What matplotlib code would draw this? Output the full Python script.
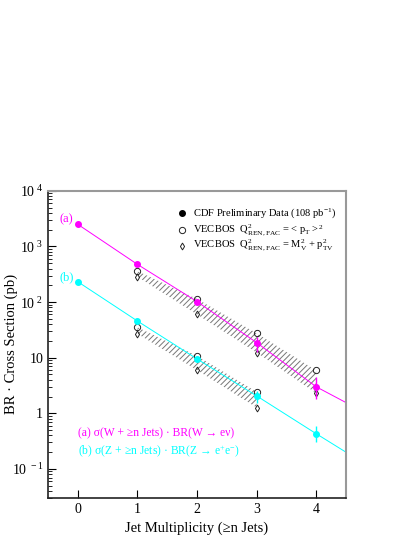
import numpy as np
import matplotlib
matplotlib.use("Agg")
import matplotlib.pyplot as plt
from matplotlib.ticker import FixedLocator, FixedFormatter, LogLocator, NullFormatter

plt.rcParams['font.family'] = ['Liberation Serif', 'DejaVu Serif']
plt.rcParams['mathtext.fontset'] = 'custom'
plt.rcParams['mathtext.rm'] = 'Liberation Serif'
plt.rcParams['mathtext.it'] = 'Liberation Serif'
plt.rcParams['hatch.linewidth'] = 0.7

# jet multiplicity
n_data = [0, 1, 2, 3, 4]
n_vec_w = [1, 2, 3, 4]
n_vec_z = [1, 2, 3]

# CDF data, W (a) and Z (b)
w_data = [2500, 477, 102, 18.7, 3.0]
w_err_lo = [0, 0, 4, 5.8, 1.2]
w_err_hi = [0, 0, 4, 4.6, 1.5]
z_data = [232, 45.7, 9.5, 2.06, 0.43]
z_err_lo = [0, 0, 0.5, 0.52, 0.13]
z_err_hi = [0, 0, 0.5, 0.44, 0.17]

# fit lines
n_fit = [0, 1, 2, 3, 4, 4.5]
w_fit = [2500, 477, 102, 18.7, 3.0, 1.56]
z_fit = [232, 45.7, 9.5, 2.06, 0.43, 0.2]

# VECBOS predictions: Q^2 = <pT>^2 (circles), Q^2 = M^2 + pT^2 (diamonds)
w_vec_pt = [361, 114, 27.5, 5.9]
w_vec_m = [286, 60, 12.4, 2.3]
z_vec_pt = [35.3, 10.8, 2.43]
z_vec_m = [27, 6.0, 1.27]

magenta = '#ff00ff'
cyan = '#00ffff'

fig = plt.figure(figsize=(4.15, 5.37), dpi=100)
ax = fig.add_axes([0.1157, 0.0726, 0.718, 0.572])

# hatched VECBOS bands
ax.fill_between(n_vec_w, w_vec_m, w_vec_pt, facecolor='none', edgecolor='#777777',
                hatch='//////', linewidth=0)
ax.fill_between(n_vec_z, z_vec_m, z_vec_pt, facecolor='none', edgecolor='#777777',
                hatch='//////', linewidth=0)

ax.plot(n_fit, w_fit, color=magenta, lw=0.7)
ax.plot(n_fit, z_fit, color=cyan, lw=0.7)

ax.errorbar(n_data, w_data, yerr=[w_err_lo, w_err_hi], fmt='o', color=magenta,
            ms=4, elinewidth=1.0, capsize=0, zorder=5)
ax.errorbar(n_data, z_data, yerr=[z_err_lo, z_err_hi], fmt='o', color=cyan,
            ms=4, elinewidth=1.0, capsize=0, zorder=5)

for xs, ys in [(n_vec_w, w_vec_pt), (n_vec_z, z_vec_pt)]:
    ax.plot(xs, ys, 'o', mfc='none', mec='#222222', ms=4.5, mew=0.7, zorder=4)
for xs, ys in [(n_vec_w, w_vec_m), (n_vec_z, z_vec_m)]:
    ax.plot(xs, ys, 'd', mfc='none', mec='#222222', ms=3.5, mew=0.7, zorder=4)

ax.set_yscale('log')
ax.set_xlim(-0.5, 4.5)
ax.set_ylim(0.03, 1e4)

ax.xaxis.set_major_locator(FixedLocator([0, 1, 2, 3, 4]))
ax.yaxis.set_major_locator(FixedLocator([0.1, 1, 10, 100, 1000, 10000]))
ax.yaxis.set_major_formatter(FixedFormatter([r'$\mathregular{10^{\ -1}}$', '1', '10',
                                             r'$\mathregular{10^{\ 2}}$',
                                             r'$\mathregular{10^{\ 3}}$',
                                             r'$\mathregular{10^{\ 4}}$']))
ax.yaxis.set_minor_locator(LogLocator(base=10, subs=np.arange(2, 10), numticks=20))
ax.yaxis.set_minor_formatter(NullFormatter())
ax.tick_params(axis='both', which='both', direction='in', top=False, right=False,
               labelsize=10)
ax.tick_params(axis='y', which='major', length=6, width=0.8)
ax.tick_params(axis='y', which='minor', length=3, width=0.6)
ax.tick_params(axis='x', which='major', length=6, width=0.8)
ax.tick_params(axis='x', which='minor', bottom=False)

for s in ['left', 'bottom']:
    ax.spines[s].set_color('#222222')
    ax.spines[s].set_linewidth(1.2)
for s in ['top', 'right']:
    ax.spines[s].set_color('#999999')
    ax.spines[s].set_linewidth(1.5)

ax.set_xlabel('Jet Multiplicity (≥n Jets)', fontsize=10.5)
ax.set_ylabel('BR · Cross Section (pb)', fontsize=10.5)
ax.xaxis.set_label_coords(0.5, -0.075)
ax.yaxis.set_label_coords(-0.1, 0.5)

# legend drawn by hand
tr = ax.transAxes
ax.plot([0.45], [0.927], 'o', color='black', ms=4, transform=tr, clip_on=False)
ax.plot([0.45], [0.872], 'o', mfc='none', mec='#222222', ms=4.5, mew=0.7, transform=tr)
ax.plot([0.45], [0.821], 'd', mfc='none', mec='#222222', ms=3.5, mew=0.7, transform=tr)
ax.text(0.487, 0.927, r'CDF Preliminary Data (108 pb$^{\mathregular{-1}}$)', transform=tr,
        fontsize=7.6, va='center')
ax.text(0.487, 0.872, r'VECBOS  $\mathregular{Q^{2}_{REN,FAC}}$ = < p$_{\mathregular{T}}$ >$^{\mathregular{2}}$',
        transform=tr, fontsize=7.6, va='center')
ax.text(0.487, 0.821, r'VECBOS  $\mathregular{Q^{2}_{REN,FAC}}$ = M$^{\mathregular{2}}_{\mathregular{V}}$ + p$^{\mathregular{2}}_{\mathregular{TV}}$',
        transform=tr, fontsize=7.6, va='center')

ax.text(0.04, 0.907, '(a)', transform=tr, color=magenta, fontsize=9, va='center')
ax.text(0.04, 0.718, '(b)', transform=tr, color=cyan, fontsize=9, va='center')
ax.text(0.10, 0.212, '(a) σ(W + ≥n Jets) · BR(W → eν)', transform=tr,
        color=magenta, fontsize=8.4, va='center')
ax.text(0.10, 0.150, r'(b) σ(Z + ≥n Jets) · BR(Z → e$^{\mathregular{+}}$e$^{\mathregular{-}}$)',
        transform=tr, color=cyan, fontsize=8.4, va='center')

fig.savefig('out.png', dpi=100)
